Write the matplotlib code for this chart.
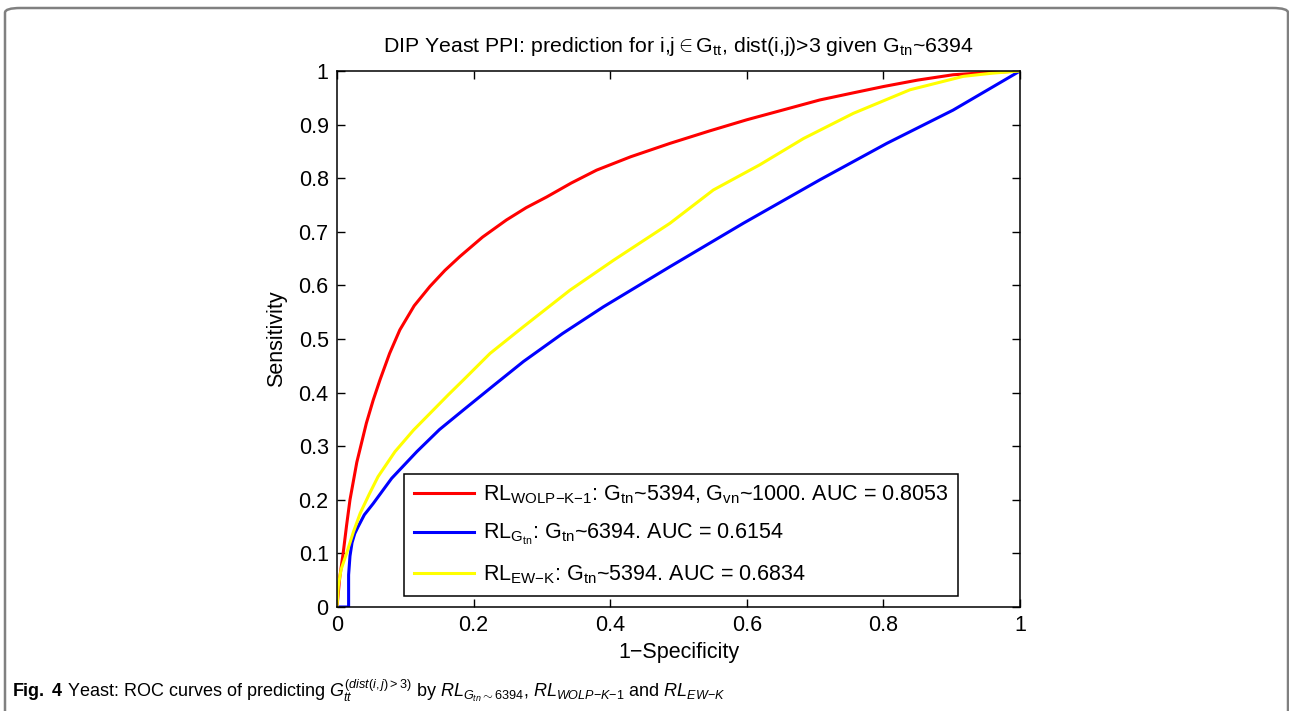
import matplotlib
matplotlib.use('Agg')
import matplotlib.pyplot as plt
from matplotlib.patches import FancyBboxPatch

plt.rcParams['font.family'] = ['Liberation Sans', 'DejaVu Sans']
plt.rcParams['mathtext.fontset'] = 'custom'
plt.rcParams['mathtext.rm'] = 'Liberation Sans'
plt.rcParams['mathtext.it'] = 'Liberation Sans:italic'
plt.rcParams['mathtext.bf'] = 'Liberation Sans:bold'

# ROC curves (1-specificity, sensitivity)
fpr_wolp = [0, 0.004, 0.009, 0.014, 0.019, 0.029, 0.043, 0.053, 0.063, 0.077, 0.092,
            0.113, 0.136, 0.158, 0.180, 0.213, 0.248, 0.277, 0.307, 0.343, 0.380,
            0.430, 0.4876, 0.545, 0.600, 0.655, 0.707, 0.755, 0.80, 0.850, 0.902,
            0.950, 1.0]
tpr_wolp = [0, 0.055, 0.10, 0.152, 0.20, 0.27, 0.343, 0.386, 0.424, 0.473, 0.517,
            0.562, 0.598, 0.628, 0.654, 0.690, 0.722, 0.745, 0.765, 0.791, 0.815,
            0.840, 0.865, 0.888, 0.909, 0.928, 0.946, 0.959, 0.971, 0.983, 0.993,
            0.997, 1.0]

fpr_gtn = [0, 0.017, 0.017, 0.019, 0.022, 0.026, 0.031, 0.040, 0.053, 0.080, 0.117,
           0.150, 0.185, 0.230, 0.273, 0.330, 0.390, 0.4876, 0.595, 0.707, 0.805,
           0.902, 1.0]
tpr_gtn = [0, 0, 0.06, 0.095, 0.120, 0.137, 0.15, 0.172, 0.193, 0.240, 0.29,
           0.331, 0.3675, 0.414, 0.458, 0.510, 0.560, 0.635, 0.716, 0.797, 0.865,
           0.927, 1.0]

fpr_ewk = [0, 0.002, 0.006, 0.014, 0.024, 0.034, 0.047, 0.060, 0.085, 0.112, 0.141,
           0.163, 0.185, 0.224, 0.273, 0.341, 0.405, 0.4876, 0.551, 0.619, 0.683,
           0.756, 0.839, 0.917, 0.960, 1.0]
tpr_ewk = [0, 0.04, 0.07, 0.10, 0.140, 0.175, 0.210, 0.243, 0.290, 0.330, 0.3675,
           0.396, 0.4235, 0.473, 0.523, 0.591, 0.647, 0.716, 0.778, 0.825, 0.874,
           0.921, 0.965, 0.990, 0.996, 1.0]

labels = [r'RL$_{\mathrm{WOLP{-}K{-}1}}$: G$_{\mathrm{tn}}$~5394, G$_{\mathrm{vn}}$~1000. AUC = 0.8053',
          r'RL$_{\mathrm{G_{tn}}}$: G$_{\mathrm{tn}}$~6394. AUC = 0.6154',
          r'RL$_{\mathrm{EW{-}K}}$: G$_{\mathrm{tn}}$~5394. AUC = 0.6834']

fig = plt.figure(figsize=(12.89, 7.11), dpi=100)

# outer rounded panel
panel = FancyBboxPatch((5 / 1289, -0.05), 1283 / 1289, 1.05 - 8 / 711,
                       boxstyle='round,pad=0,rounding_size=0.012',
                       transform=fig.transFigure, fill=False,
                       edgecolor='#808080', linewidth=1.8, mutation_aspect=711 / 1289)
fig.patches.append(panel)

ax = fig.add_axes([337 / 1289, 1 - 607 / 711, 683 / 1289, 536 / 711])
ax.plot(fpr_wolp, tpr_wolp, color='#ff0000', lw=2.2, label=labels[0])
ax.plot(fpr_gtn, tpr_gtn, color='#0000ff', lw=2.2, label=labels[1])
ax.plot(fpr_ewk, tpr_ewk, color='#ffff00', lw=2.2, label=labels[2])

ax.set_xlim(0, 1)
ax.set_ylim(0, 1)
ax.set_xticks([0, 0.2, 0.4, 0.6, 0.8, 1])
ax.set_xticklabels(['0', '0.2', '0.4', '0.6', '0.8', '1'])
ax.set_yticks([i / 10 for i in range(11)])
ax.set_yticklabels(['0'] + ['%.1f' % (i / 10) for i in range(1, 10)] + ['1'])
ax.tick_params(direction='in', top=True, right=True, length=6, width=1,
               labelsize=15.5, pad=6)
for s in ax.spines.values():
    s.set_linewidth(1.1)

ax.set_xlabel('1\u2212Specificity', fontsize=15.5, labelpad=4)
ax.set_ylabel('Sensitivity', fontsize=15.5, labelpad=8)
ax.set_title(r'DIP Yeast PPI: prediction for i,j$\in$G$_{\mathrm{tt}}$, dist(i,j)>3 given G$_{\mathrm{tn}}$~6394',
             fontsize=15.3, pad=14)

leg = ax.legend(loc='lower left', bbox_to_anchor=(0.098, 0.021), borderaxespad=0,
                fontsize=15.5, fancybox=False, framealpha=1, edgecolor='black',
                handlelength=2.8, borderpad=0.45, labelspacing=0.75, handletextpad=0.4)
leg.get_frame().set_linewidth(1.1)

fig.text(12 / 1289, 1 - 697 / 711,
         r'$\mathbf{Fig.\ 4}$ Yeast: ROC curves of predicting $G_{tt}^{(dist(i,j)>3)}$ by '
         r'$RL_{G_{tn}\sim6394}$, $RL_{WOLP{-}K{-}1}$ and $RL_{EW{-}K}$',
         fontsize=13, family=['Liberation Sans Narrow', 'Liberation Sans'])

fig.savefig('out.png', dpi=100)
